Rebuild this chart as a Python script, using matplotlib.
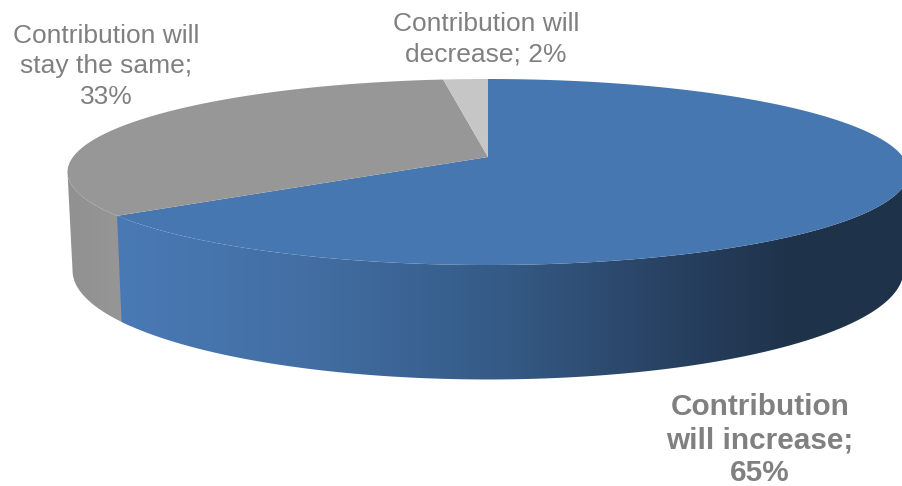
import matplotlib
matplotlib.use("Agg")
import matplotlib.pyplot as plt
import numpy as np
from matplotlib.colors import LinearSegmentedColormap
from matplotlib.patches import Polygon

plt.rcParams["font.family"] = ["Liberation Sans", "DejaVu Sans"]

# shares go clockwise from 12 o'clock
labels = [
    "Contribution\nwill increase;\n65%",
    "Contribution will\nstay the same;\n33%",
    "Contribution will\ndecrease; 2%",
]
shares = [65, 33, 2]

top_colors = ["#4777b0", "#979797", "#c6c6c6"]
text_color = "#808080"

W, H = 903, 486
CX, CY = 488, 157
RX = 415
PERSP = 0.1613
SQUASH = -65.26
DEPTH = 96
BOTTOM_SHRINK = 0.988


def rim(theta, bottom=False):
    """Projects angles on the pie's disc to pixel positions, top or bottom edge."""
    u = np.sin(theta)
    v = np.cos(theta)
    w = 1 + PERSP * v
    x = RX * u / w
    y = (CY + SQUASH * v) / w
    if bottom:
        x = x * BOTTOM_SHRINK
        y = y + DEPTH / w
    return CX + x, y


def wall(ax, start, end, cmap, x0, x1):
    """Fills the outer wall between two angles with a left-to-right gradient."""
    theta = np.linspace(start, end, 300)
    top = np.column_stack(rim(theta))
    bot = np.column_stack(rim(theta, bottom=True))[::-1]
    poly = Polygon(np.vstack([top, bot]), closed=True, fc="none", ec="none", transform=ax.transData)
    ax.add_patch(poly)
    grad = np.linspace(0, 1, 512).reshape(1, -1)
    im = ax.imshow(grad, cmap=cmap, extent=(x0, x1, H, 0), aspect="auto", zorder=1)
    im.set_clip_path(poly)


fig = plt.figure(figsize=(W / 100, H / 100), dpi=100)
ax = fig.add_axes([0, 0, 1, 1])

edges = np.radians(np.cumsum([0] + shares) * 3.6)

# the wall is only visible between the two widest points of the rim
side_right = np.arccos(-PERSP)
side_left = 2 * np.pi - side_right

blue_wall = LinearSegmentedColormap.from_list(
    "blue_wall",
    [(0, "#4a7ab5"), (0.25, "#426ea3"), (0.5, "#345a85"), (0.68, "#2a4466"), (0.85, "#1f334b"), (1, "#1e3249")],
)
gray_wall = LinearSegmentedColormap.from_list("gray_wall", ["#909090", "#989898"])

# gray starts a little under the blue wall so no seam shows between them
wall(ax, edges[1] - 0.04, side_left, gray_wall, 60, 140)
wall(ax, side_right, edges[1], blue_wall, 112, 905)

# top faces of the three slices
for i, color in enumerate(top_colors):
    theta = np.linspace(edges[i], edges[i + 1], 200)
    xs, ys = rim(theta)
    pts = np.column_stack([np.r_[CX, xs], np.r_[CY, ys]])
    ax.add_patch(Polygon(pts, closed=True, fc=color, ec="none", zorder=2))

ax.text(760, 440, labels[0], color=text_color, fontsize=21.4, fontweight="bold",
        ha="center", va="center", linespacing=1.22)
ax.text(106, 66.5, labels[1], color=text_color, fontsize=19,
        ha="center", va="center", linespacing=1.325)
ax.text(486, 39, labels[2], color=text_color, fontsize=19,
        ha="center", va="center", linespacing=1.325)

ax.set_xlim(0, W)
ax.set_ylim(H, 0)
ax.axis("off")

fig.savefig("out.png", dpi=100)
